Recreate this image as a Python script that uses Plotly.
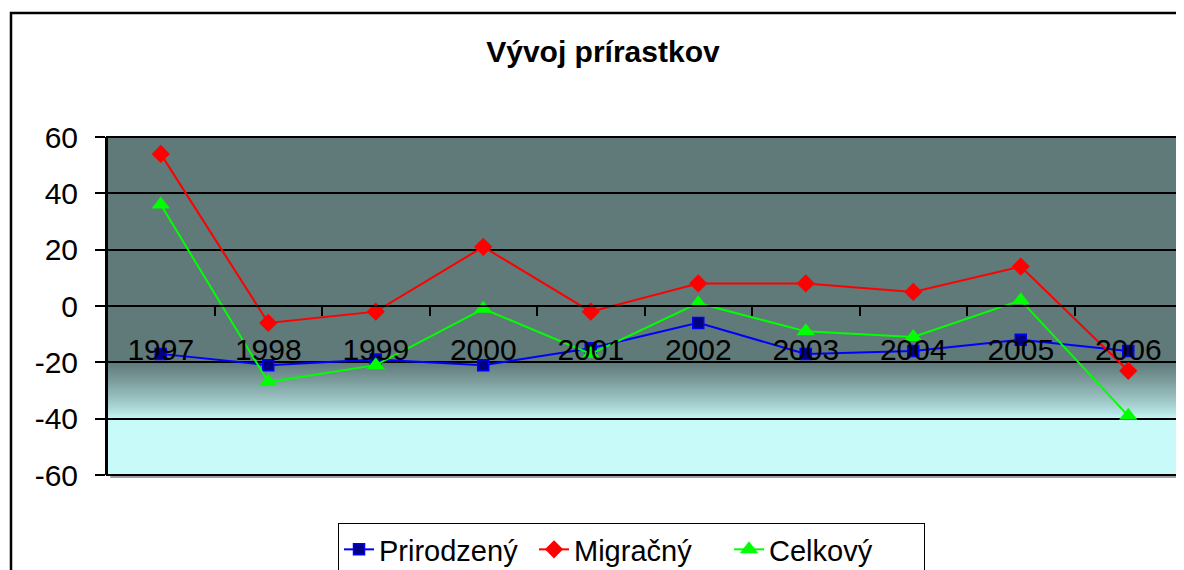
import plotly.graph_objects as go

years = ["1997", "1998", "1999", "2000", "2001", "2002", "2003", "2004", "2005", "2006"]
prirodzeny = [-17, -21, -19, -21, -15, -6, -17, -16, -12, -16]
migracny = [54, -6, -2, 21, -2, 8, 8, 5, 14, -23]
celkovy = [36, -27, -21, -1, -17, 1, -9, -11, 2, -39]
y_ticks = [-60, -40, -20, 0, 20, 40, 60]
y_ticktext = ["-60", "-40", "-20", "0", "20", "40", "60"]

FONT = "Arial, Liberation Sans, sans-serif"

fig = go.Figure()

fig.add_trace(go.Scatter(
    x=years, y=prirodzeny, name="Prirodzený", mode="lines+markers",
    line=dict(color="#0000FF", width=2),
    marker=dict(symbol="square", size=11, color="#000080", line=dict(color="#0000FF", width=1.5)),
))
fig.add_trace(go.Scatter(
    x=years, y=migracny, name="Migračný", mode="lines+markers",
    line=dict(color="#FF0000", width=2),
    marker=dict(symbol="diamond", size=14, color="#FF0000"),
))
fig.add_trace(go.Scatter(
    x=years, y=celkovy, name="Celkový", mode="lines+markers",
    line=dict(color="#00FF00", width=2),
    marker=dict(symbol="triangle-up", size=16, color="#00FF00"),
))

shapes = []
# background: light cyan below -40
shapes.append(dict(type="rect", xref="paper", yref="y", x0=0, x1=1, y0=-60, y1=-40,
                   fillcolor="#C8FAFA", line=dict(width=0), layer="below"))
# gradient between -40 and -20
dark = (0x60, 0x79, 0x79)
light = (0xC8, 0xFA, 0xFA)
n = 28
for i in range(n):
    t0 = i / n
    t = (i + 0.5) / n
    f = t ** 0.8
    c = tuple(int(round(light[k] + (dark[k] - light[k]) * f)) for k in range(3))
    shapes.append(dict(type="rect", xref="paper", yref="y", x0=0, x1=1,
                       y0=-40 + 20 * t0, y1=-40 + 20 * (i + 1) / n + 0.4,
                       fillcolor="rgb(%d,%d,%d)" % c, line=dict(width=0), layer="below"))

# plot area border with shadow
shapes.append(dict(type="line", xref="paper", yref="paper", x0=0.003, x1=1.003, y0=-0.006, y1=-0.006,
                   line=dict(color="#A0A0A0", width=2), layer="above"))
shapes.append(dict(type="line", xref="paper", yref="paper", x0=1.003, x1=1.003, y0=-0.006, y1=0.995,
                   line=dict(color="#A0A0A0", width=2), layer="above"))
shapes.append(dict(type="rect", xref="paper", yref="paper", x0=0, x1=1, y0=0, y1=1,
                   line=dict(color="black", width=2), layer="above"))
# outer chart frame
shapes.append(dict(type="rect", xref="paper", yref="paper", x0=-0.0893, x1=1.2, y0=-0.6, y1=1.367,
                   line=dict(color="black", width=2.5), layer="above"))

fig.update_layout(
    width=1184, height=570,
    margin=dict(l=99, r=10, t=129, b=103, autoexpand=False),
    paper_bgcolor="white",
    plot_bgcolor="#607979",
    font=dict(family=FONT, color="black"),
    title=dict(text="<b>Vývoj prírastkov</b>", xref="container", yref="container",
               x=0.5025, y=0.923, xanchor="center", yanchor="middle",
               font=dict(size=30, family=FONT, color="black")),
    showlegend=True,
    legend=dict(orientation="h", xanchor="left", yanchor="top", x=0.2149, y=-0.142,
                bordercolor="black", borderwidth=1, bgcolor="white",
                font=dict(size=29, family=FONT), itemwidth=30, tracegroupgap=0,
                entrywidth=150, entrywidthmode="pixels"),
    shapes=shapes,
)

fig.update_xaxes(
    type="category", categoryorder="array", categoryarray=years,
    tickson="boundaries", ticks="outside", ticklen=9, tickwidth=2, tickcolor="black",
    anchor="free", position=0.5, showline=True, linecolor="black", linewidth=2,
    showgrid=False, zeroline=False, tickfont=dict(size=30, family=FONT),
    ticklabelstandoff=17, range=[-0.5, 9.5], automargin=False,
)
fig.update_yaxes(
    range=[-60, 60], tickvals=y_ticks, ticktext=y_ticktext, ticks="outside", ticklen=10,
    tickwidth=2, tickcolor="black",
    showline=True, linecolor="black", linewidth=2, showgrid=True, gridcolor="black", gridwidth=2,
    zeroline=False, tickfont=dict(size=30, family=FONT), ticklabelstandoff=11, automargin=False,
)

fig.write_html("out.html")
